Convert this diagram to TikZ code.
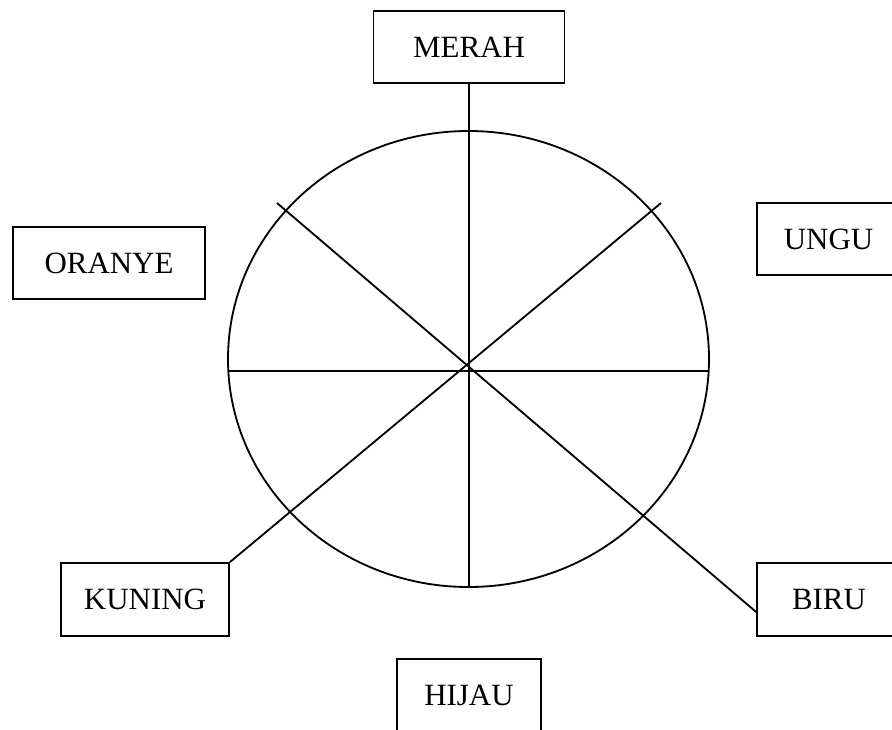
\documentclass[tikz,border=0pt]{standalone}
\usepackage{fontspec}
\setmainfont{Liberation Serif}
\usetikzlibrary{calc}
\tikzset{
  kotak/.style={draw, line width=1.3pt, inner sep=0pt, font=\fontsize{22}{26}\selectfont},
}

\begin{document}
\begin{tikzpicture}[x=0.025cm, y=-0.025cm, line width=1.3pt]
\useasboundingbox (0,0) rectangle (892,729);
% roda warna
\coordinate (pusat) at (468.5,359);
\draw (pusat) ellipse [x radius=240.5, y radius=228];
\node[kotak, minimum width=4.775cm, minimum height=1.8cm] (merah) at (469,47) {MERAH};
\node[kotak, minimum width=3.575cm, minimum height=1.8cm] (ungu) at (828.5,239) {UNGU};
\node[kotak, minimum width=4.8cm, minimum height=1.8cm] (oranye) at (109,263) {ORANYE};
\node[kotak, minimum width=4.2cm, minimum height=1.825cm] (kuning) at (145,599.5) {KUNING};
\node[kotak, minimum width=3.6cm, minimum height=1.825cm] (biru) at (829,599.5) {BIRU};
\node[kotak, minimum width=3.6cm, minimum height=1.8cm] (hijau) at (469,695) {HIJAU};
% garis pembagi
\coordinate (bawah) at (469,587);
\coordinate (kiri) at (228,371);
\coordinate (kanan) at (709,371);
\coordinate (kiriatas) at (277,203);
\coordinate (kananatas) at (661,203);
\draw (merah.south) -- (bawah);
\draw (kiri) -- (kanan);
\draw (kiriatas) -- ($(biru.south west)+(0,-25)$);
\draw (kananatas) -- (kuning.north east);
\end{tikzpicture}
\end{document}
